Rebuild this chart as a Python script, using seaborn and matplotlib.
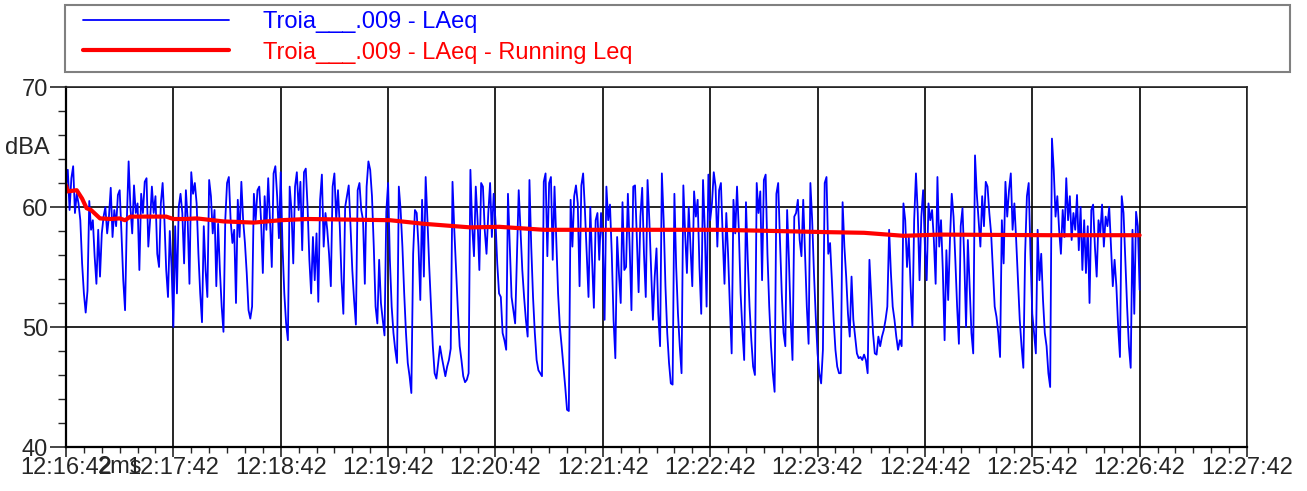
import numpy as np
import pandas as pd
import matplotlib
matplotlib.use("Agg")
import matplotlib.pyplot as plt
import seaborn as sns
from matplotlib.ticker import MultipleLocator, FuncFormatter
from matplotlib.patches import Rectangle

# LAeq, one value per second from 12:16:42 (dBA)
laeq = [
    61.7, 63.1, 59.75, 62.4, 63.4, 59.5, 61.1, 60.3, 58.9, 55.3, 52.8, 51.2, 53.0, 60.5, 58.1, 58.9, 55.9, 53.6, 58.1, 54.2,
    57.8, 59.2, 60.0, 57.8, 59.2, 61.6, 57.5, 59.75, 58.4, 61.0, 61.4, 57.8, 53.9, 51.4, 58.9, 63.8, 60.0, 57.8, 61.8, 59.5,
    60.3, 54.75, 61.1, 59.5, 62.1, 62.4, 56.7, 58.9, 61.7, 59.5, 60.9, 56.1, 55.0, 60.3, 62.0, 58.9, 54.75, 52.5, 58.0,
    55.0, 50.0, 58.4, 52.8, 60.0, 61.1, 59.5, 55.3, 61.4, 58.9, 53.6, 62.9, 61.1, 62.0, 60.3, 56.1, 52.8, 50.4, 58.4, 54.75,
    52.5, 62.25, 60.9, 57.8, 59.75, 53.4, 58.6, 54.75, 51.7, 49.6, 58.9, 62.0, 62.5, 58.9, 57.0, 58.1, 52.0, 60.6, 57.5, 62.1,
    58.9, 57.0, 54.5, 51.4, 50.7, 51.7, 61.1, 58.9, 61.4, 61.7, 58.9, 54.5, 60.9, 58.1, 62.4, 58.9, 55.0, 62.8, 63.4, 60.9,
    57.4, 62.9,
    56.7, 52.8, 50.3, 48.9, 61.7, 59.75, 55.3, 61.7, 62.9, 59.75, 62.1, 56.4, 62.9, 63.2, 60.0, 55.6, 52.8, 57.5, 53.9, 57.8,
    52.1, 60.6, 62.7, 56.7, 59.5, 58.1, 56.1, 53.4, 61.7, 62.8, 58.9, 61.4, 58.4, 53.9, 51.1, 60.0, 60.9, 61.8, 58.4, 54.75,
    52.25, 50.2, 61.4, 62.0, 59.75, 58.9, 53.6, 61.7, 63.8, 63.1, 60.9, 56.7, 51.7, 50.3, 55.6, 52.0, 50.6, 49.3, 59.6, 62.0,
    55.6,
    51.7, 49.5, 48.1, 47.0, 61.7, 59.75, 56.7, 52.8, 49.5, 47.0, 45.9, 44.5, 56.1, 59.75, 59.5, 56.7, 52.25, 60.6, 54.2, 62.5,
    58.9, 55.0, 51.7, 48.4, 46.15, 45.7, 47.0, 48.4, 47.5, 46.7, 45.9, 46.7, 47.25, 48.2, 62.1, 58.1, 54.75, 51.4, 48.4, 47.25,
    45.9, 45.4, 45.6, 46.15, 63.1, 58.4, 55.9, 61.7, 58.9, 54.75, 62.0, 61.7, 58.1, 56.1, 59.5, 62.0, 57.5, 61.1, 58.9, 55.3,
    52.8,
    52.5, 49.5, 48.9, 48.1, 61.1, 56.7, 52.5, 51.4, 50.3, 55.9, 61.4, 58.1, 54.75, 52.5, 50.6, 49.2, 62.25, 56.7, 52.5, 49.5,
    47.25, 46.4, 46.15, 45.9, 62.1, 62.8, 55.9, 62.0, 62.5, 55.6, 61.7, 57.25, 52.8, 50.0, 48.4, 46.7, 45.0, 43.1, 43.0, 60.6,
    56.7, 60.9, 61.8, 60.3, 53.4, 61.8, 62.8, 59.75, 56.1, 52.5, 60.0, 55.6, 51.6, 58.9, 59.5, 55.6, 59.5, 57.25, 50.6, 61.7,
    58.9, 60.2,
    56.1, 50.6, 47.4, 57.5, 54.5, 52.0, 60.4, 54.75, 55.0, 61.1, 56.7, 51.4, 61.7, 61.8, 57.5, 52.9, 59.2, 61.6, 56.1, 52.5,
    62.25, 58.9, 54.75, 50.6, 54.2, 56.55, 51.1, 48.4, 62.8, 58.9, 53.4, 49.5, 47.0, 45.3, 45.2, 61.1, 55.0, 51.1, 48.4, 46.15,
    61.8, 57.8, 54.5, 60.0, 56.7, 53.4, 61.3, 59.2, 60.6, 55.0, 51.1, 62.25, 58.1, 51.7, 62.7, 58.9, 60.3, 62.9, 61.7, 56.7,
    61.4,
    62.0, 57.5, 53.6, 59.5, 56.1, 51.7, 47.8, 60.6, 57.8, 61.7, 58.1, 52.8, 49.75, 47.25, 60.4, 55.6, 51.7, 48.9, 46.7, 46.0,
    62.0, 59.5, 61.3, 53.9, 62.25, 62.7, 56.1, 51.7, 48.4, 46.15, 44.6, 61.1, 62.0, 57.25, 52.8, 49.5, 48.4, 59.75, 55.6, 50.6,
    47.25, 59.2, 59.5, 60.6, 57.25, 55.9, 60.6, 56.1, 51.7, 48.6, 62.0, 58.9, 54.5, 50.85, 47.8, 46.15, 45.3, 48.1, 62.0, 62.5,
    56.1,
    57.0, 53.9, 50.6, 48.1, 46.7, 46.15, 46.15, 60.4, 56.7, 54.2, 51.1, 49.2, 54.2, 50.6, 49.2, 47.8, 47.4, 47.5, 47.25, 47.7,
    47.25, 46.15, 55.6, 52.5, 49.5, 47.8, 47.7, 49.2, 48.4, 49.2, 49.75, 50.6, 51.7, 58.1, 54.5, 51.7, 50.6, 49.2, 48.1, 48.9,
    48.4, 60.3, 58.9, 55.0, 57.5, 53.4, 50.0, 58.9, 62.8, 59.5, 53.9, 59.2, 61.4, 56.7, 53.9, 60.3, 58.9, 59.75, 57.25, 53.6,
    62.5, 56.7,
    58.9, 54.75, 48.9, 56.4, 52.25, 57.25, 61.1, 59.2, 55.6, 51.7, 48.6, 58.4, 59.9, 55.6, 50.0, 57.25, 53.4, 49.5, 47.8, 64.3,
    61.1, 58.9, 56.7, 60.9, 58.4, 62.1, 61.7, 59.5, 57.8, 54.75, 51.7, 50.85, 49.5, 47.5, 58.9, 55.3, 62.1, 59.2, 61.4, 62.8,
    58.1, 60.3, 57.25, 53.9, 50.6, 48.4, 46.6, 56.1, 60.9, 62.0, 56.1, 51.1, 49.5, 47.8, 58.1, 53.9, 56.1, 52.25, 49.5, 48.4,
    46.15, 45.0,
    65.7, 63.1, 59.2, 60.9, 58.1, 56.1, 59.75, 57.5, 62.4, 58.9, 60.9, 57.25, 59.5, 58.1, 61.0, 56.4, 60.0, 54.75, 58.9, 54.5,
    58.4, 52.0, 59.75, 60.2, 56.7, 54.2, 58.9, 57.8, 60.2, 56.7, 59.2, 58.4, 60.0, 56.7, 53.4, 55.6, 53.4, 50.0, 47.5, 60.9,
    59.5, 55.6, 51.7, 48.4, 46.6, 58.1, 51.1, 59.6, 58.4, 53.1,
]
seconds = np.arange(len(laeq))

# running Leq (seconds after start, dBA)
leq_t = [0, 1, 6, 9, 11.5, 14, 19, 25, 30, 33, 36, 47, 56, 60, 67, 73, 88, 105, 120, 135,
         181, 200, 226, 242, 267, 304, 365, 427, 446, 468, 488, 550, 600]
leq_v = [61.8, 61.3, 61.4, 60.7, 59.9, 59.75, 59.05, 59.0, 59.05, 58.9, 59.2, 59.2, 59.2, 59.0, 59.0, 59.05, 58.8, 58.7, 58.9, 59.0,
         58.9, 58.6, 58.3, 58.35, 58.1, 58.1, 58.1, 57.9, 57.85, 57.6, 57.7, 57.65, 57.65]

start = pd.Timestamp("2000-01-01 12:16:42")
W, H = 1307, 491

sns.set_style("ticks")
plt.rcParams['font.family'] = ['Liberation Sans', 'DejaVu Sans']

fig = plt.figure(figsize=(W / 100, H / 100), dpi=100)
ax = fig.add_axes([66 / W, 1 - 447 / H, 1181 / W, 360 / H])

df = pd.DataFrame({"t": seconds, "dB": laeq})
sns.lineplot(data=df, x="t", y="dB", ax=ax, color="#0000ff", lw=1.3,
             label="Troia___.009 - LAeq")
sns.lineplot(x=leq_t, y=leq_v, ax=ax, color="#ff0000", lw=3,
             label="Troia___.009 - LAeq - Running Leq")

ax.set_xlim(0, 660)
ax.set_ylim(40, 70)
ax.set_xlabel("")
ax.set_ylabel("")
ax.xaxis.set_major_locator(MultipleLocator(60))
ax.xaxis.set_minor_locator(MultipleLocator(10))
ax.yaxis.set_major_locator(MultipleLocator(10))
ax.yaxis.set_minor_locator(MultipleLocator(2))
ax.xaxis.set_major_formatter(FuncFormatter(
    lambda v, p: (start + pd.Timedelta(seconds=v)).strftime("%H:%M:%S")))
ax.grid(which="major", color="black", lw=1.2)

ax.tick_params(axis="y", which="major", length=11.5, width=1.2, pad=1.5, labelsize=17, direction="out")
ax.tick_params(axis="y", which="minor", length=5.8, width=1.0, direction="out")
ax.tick_params(axis="x", which="major", length=7, width=1.2, pad=0.5, labelsize=17, direction="out")
ax.tick_params(axis="x", which="minor", length=4.3, width=1.0, direction="out")
for side in ["top", "right"]:
    ax.spines[side].set_visible(True)
    ax.spines[side].set_linewidth(1.2)
for side in ["left", "bottom"]:
    ax.spines[side].set_linewidth(1.6)
    ax.spines[side].set_color("black")

fig.text(5 / W, 1 - 148 / H, "dBA", fontsize=17, ha="left", va="center")
fig.text(120 / W, 1 - 467 / H, "2ms", fontsize=17, ha="center", va="center")

# legend box across the top
fig.patches.append(Rectangle((65 / W, 1 - 72 / H), 1225 / W, 67 / H,
                             transform=fig.transFigure, facecolor="white",
                             edgecolor="#808080", lw=1.5, zorder=0))
handles, labels = ax.get_legend_handles_labels()
ax.get_legend().remove()
fig.legend(handles, labels, loc="upper left",
           bbox_to_anchor=(83 / W, 1 - 11 / H),
           fontsize=17, handlelength=6.2, handletextpad=1.44,
           labelspacing=0.37, borderpad=0, borderaxespad=0,
           frameon=False, labelcolor="linecolor")

fig.savefig("out.png", dpi=100)
